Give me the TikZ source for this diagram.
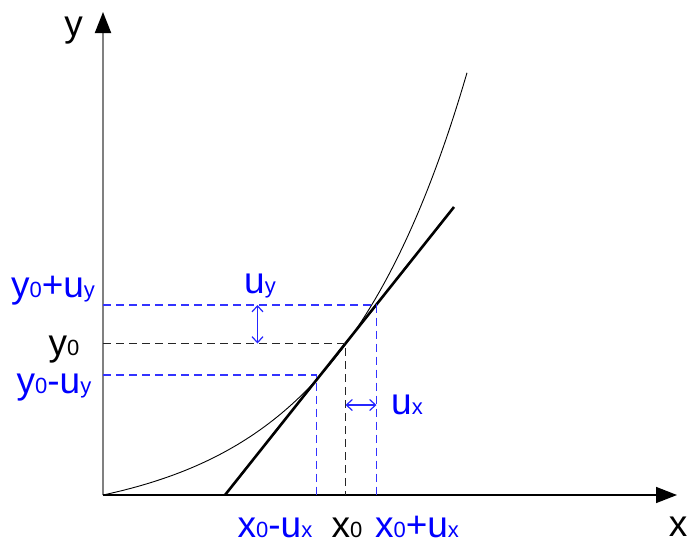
\documentclass[tikz,border=0pt]{standalone}
\usepackage{fontspec}
\setmainfont{Liberation Sans}
\usetikzlibrary{arrows.meta}

\newcommand*{\xmin}{103}
\newcommand*{\xmax}{677}
\newcommand*{\ymin}{495}
\newcommand*{\ymax}{12}
\newcommand*{\sub}[1]{{\fontsize{22}{22}\selectfont #1}}

\begin{document}
\begin{tikzpicture}
[
	x=1pt, y=-1pt,
	lbl/.style={font=\fontsize{37}{40}\selectfont, inner sep=0pt, anchor=base},
	blbl/.style={lbl, blue},
	bdash/.style={blue!80!white, dash pattern=on 8pt off 5pt, line width=1.5pt},
	kdash/.style={black!85, dash pattern=on 8pt off 5pt, line width=1.2pt},
	unc/.style={blue!85!white, line width=1.2pt, {Straight Barb[length=6pt,width=11pt]}-{Straight Barb[length=6pt,width=11pt]}},
	axtip/.style={-{Triangle[length=21pt,width=16pt,color=black]}}
]

	\useasboundingbox (0,0) rectangle (688,549);

	% axes
	\coordinate (O) at (\xmin,\ymin);
	\coordinate (xend) at (\xmax,\ymin);
	\coordinate (yend) at (\xmin,\ymax);
	\draw[axtip, line width=2pt, gray] (O) -- (yend);
	\draw[axtip, line width=1.5pt] (O) -- (xend);
	\node[lbl] (ylab) at (73.5,36) {y};
	\node[lbl] (xlab) at (678,536) {x};

	% graph
	\draw[line width=0.9pt, domain=0:364, samples=80, smooth] plot ({\xmin+\x},{\ymin-28.35*(exp(0.0076*\x)-1)});
	\coordinate (tA) at (225,495);
	\coordinate (tB) at (454,207);
	\draw[line width=2.6pt] (tA) -- (tB);

	% working point and its bounds
	\coordinate (P0) at (345.5,343.5);
	\coordinate (Pp) at (376.5,305);
	\coordinate (Pm) at (316.5,375);
	\draw[kdash] (P0 -| O) -- (P0) -- (P0 |- O);
	\draw[bdash] (Pp -| O) -- (Pp) -- (Pp |- O);
	\draw[bdash] (Pm -| O) -- (Pm) -- (Pm |- O);

	% uncertainties
	\coordinate (uyT) at (257.5,305);
	\coordinate (uyB) at (257.5,343.5);
	\draw[unc] (uyT) -- (uyB);
	\coordinate (uxL) at (345.5,405);
	\coordinate (uxR) at (376.5,405);
	\draw[unc] (uxL) -- (uxR);
	\node[blbl] (uy) at (260,293) {u\sub{y}};
	\node[blbl] (ux) at (407,414) {u\sub{x}};

	% tick labels
	\node[blbl] (ypu) at (53,297) {y\sub{0}+u\sub{y}};
	\node[lbl] (y0) at (64,355) {y\sub{0}};
	\node[blbl] (ymu) at (54,393) {y\sub{0}-u\sub{y}};
	\node[blbl] (xmu) at (275,537) {x\sub{0}-u\sub{x}};
	\node[lbl] (x0) at (347,537) {x\sub{0}};
	\node[blbl] (xpu) at (417,537) {x\sub{0}+u\sub{x}};

\end{tikzpicture}
\end{document}
